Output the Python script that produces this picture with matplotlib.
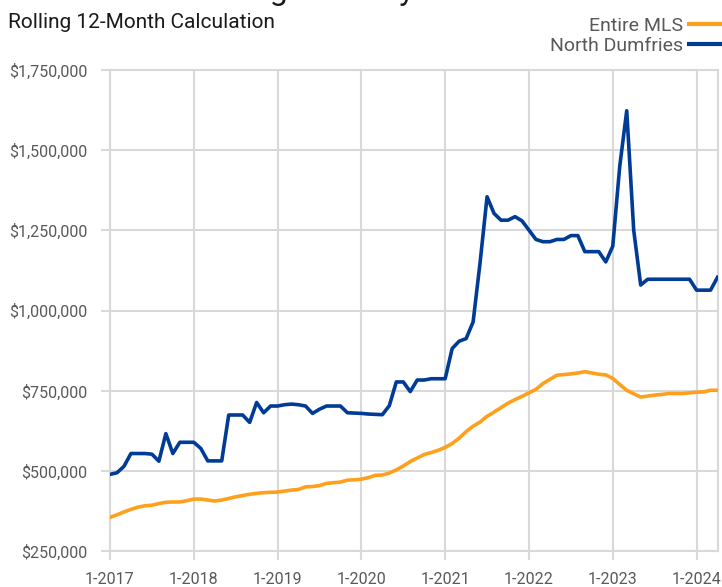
import matplotlib
matplotlib.use("Agg")
import matplotlib.pyplot as plt
import numpy as np

# monthly rolling 12-month values, Jan 2017 .. Apr 2024
YEAR_LABELS = [f"1-{y}" for y in range(2017, 2025)]

entire_mls = [
    356, 364, 373, 381, 388, 392, 394, 399, 403, 404, 404, 408,
    413, 413, 410, 407, 410, 415, 420, 424, 428, 431, 433, 434,
    435, 438, 441, 443, 451, 452, 455, 462, 464, 466, 472, 473,
    475, 480, 487, 488, 494, 504, 516, 530, 541, 552, 558, 565,
    574, 586, 603, 623, 640, 653, 671, 684, 698, 712, 723, 733,
    744, 755, 773, 786, 799, 801, 803, 806, 810, 806, 802, 800,
    789, 770, 752, 741, 731, 734, 737, 739, 742, 742, 742, 744,
    746, 747, 752, 752,
]
north_dumfries = [
    490, 495, 515, 555, 555, 555, 553, 531, 617, 555, 590, 590,
    590, 571, 532, 532, 532, 675, 675, 675, 652, 714, 682, 703,
    703, 707, 709, 707, 703, 680, 693, 703, 703, 703, 682, 681,
    680, 678, 677, 676, 704, 778, 778, 748, 784, 784, 788, 788,
    788, 882, 905, 913, 965, 1150, 1355, 1303, 1282, 1282, 1293, 1280,
    1251, 1222, 1215, 1215, 1222, 1222, 1234, 1234, 1184, 1184, 1184, 1152,
    1201, 1450, 1623, 1251, 1080, 1098, 1098, 1098, 1098, 1098, 1098, 1098,
    1064, 1064, 1064, 1104,
]

ORANGE = "#ffa01c"
BLUE = "#003b95"
GRID = "#d9d9d9"
TEXT = "#595959"

plt.rcParams["font.family"] = ["Roboto", "DejaVu Sans"]

W, H = 722, 587
fig = plt.figure(figsize=(W / 100, H / 100), dpi=100)
ax = fig.add_axes([110 / W, (H - 551.4) / H, (717.5 - 110) / W, (551.4 - 70) / H])

months = np.arange(len(entire_mls))
ax.plot(months, np.array(entire_mls) * 1000, color=ORANGE, lw=2.6, label="Entire MLS",
        solid_joinstyle="round", zorder=3)
ax.plot(months, np.array(north_dumfries) * 1000, color=BLUE, lw=2.6, label="North Dumfries",
        solid_joinstyle="round", zorder=4)

ax.set_xlim(0, len(entire_mls) - 1)
ax.set_ylim(250000, 1750000)
ax.set_xticks(np.arange(0, len(entire_mls), 12))
ax.set_xticklabels(YEAR_LABELS)
yt = np.arange(250000, 1750001, 250000)
ax.set_yticks(yt)
ax.set_yticklabels([f"${v:,.0f}" for v in yt])

ax.grid(True, color=GRID, lw=1.5, zorder=0)
for s in ax.spines.values():
    s.set_color(GRID)
    s.set_linewidth(1.5)
ax.tick_params(axis="both", length=6.5, width=1.5, color=GRID, labelcolor=TEXT, labelsize=11.5)
ax.tick_params(axis="y", pad=10)
ax.tick_params(axis="x", pad=8)

fig.text(8 / W, 1 - 22 / H, "Rolling 12-Month Calculation", fontsize=15, color="#1a1a1a",
         va="center", ha="left")
# main title sits above the visible area; only descenders show
fig.text(414 / W, 1 - 0.5 / H, "Median Price: Single Family", fontsize=23, color="#1a1a1a",
         va="baseline", ha="right")

leg = fig.legend(loc="upper right", bbox_to_anchor=(1.0 + 8 / W, 1 - 9 / H), frameon=False,
                 markerfirst=False, fontsize=14, handlelength=1.7, handletextpad=0.3,
                 labelspacing=0.12, borderaxespad=0)
for t in leg.get_texts():
    t.set_color(TEXT)
for l in leg.get_lines():
    l.set_linewidth(3)

fig.savefig("out.png", dpi=100)
